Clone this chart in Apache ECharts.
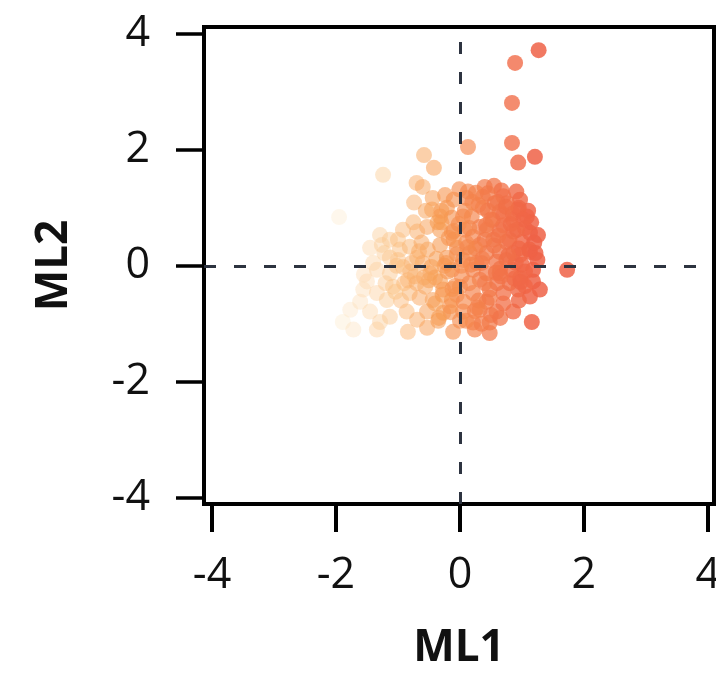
<!DOCTYPE html>
<html>
<head>
<meta charset="utf-8">
<script src="https://cdn.jsdelivr.net/npm/echarts@6/dist/echarts.min.js"></script>
<style>html,body{margin:0;padding:0;background:#fff;}#chart{width:716px;height:675px;}</style>
</head>
<body>
<div id="chart"></div>
<script>
// Scores on the two latent factors (ML1, ML2)
var ML1 = [1.27,0.89,0.84,0.84,0.94,1.21,1.73,1.16,0.13,-0.58,-0.42,-1.24,-0.70,-0.60,-1.95,
 -0.01,0.13,0.40,0.55,0.67,0.91,0.97,-0.44,-0.24,-0.10,-0.74,0.37,0.61,0.11,0.26,0.76,
 -0.45,-0.21,0.37,0.64,0.94,1.08,0.86,-0.13,-0.32,0.53,0.19,0.32,
 -0.53,-0.92,-0.69,-1.29,-1.13,-0.32,-0.13,0.08,0.21,0.43,0.64,0.86,1.13,1.26,1.00,0.75,0.54,0.32,
 -1.45,-1.26,-0.97,-0.81,-0.52,-0.32,-0.05,0.16,0.43,0.64,0.86,1.13,0.97,-1.13,-0.69,-0.21,0.59,0.27,
 -1.34,-1.13,-0.92,-0.73,-0.48,-0.13,0.03,0.21,0.43,0.64,0.83,0.97,1.18,1.18,0.32,-0.32,-1.50,
 -1.56,-1.34,-1.08,-0.81,-0.56,-0.27,0.00,0.21,0.48,0.70,0.94,1.29,1.13,-1.61,-1.18,-0.44,-0.13,0.43,
 -1.77,-1.45,-1.13,-0.86,-0.53,-0.27,0.05,0.32,0.59,0.86,-0.69,-1.29,-1.89,0.21,
 -1.72,-1.34,-0.84,-0.53,-0.11,0.24,0.48,0.48,
 0.30,0.45,0.70,0.80,1.05,1.20,0.95,0.75,0.55,0.40,0.25,0.10,0.05,0.35,0.65,0.90,1.05,1.25,0.80,0.60,
 0.40,0.15,0.30,0.70,0.95,1.05,0.50,0.35,0.65,0.10,-0.05,-0.20,-0.05,0.15,0.50,0.85,1.10,1.15,0.95,0.70,
 0.45,0.20,0.05,-0.10,-0.25,-0.40,-0.60,-0.80,-1.00,-0.90,-0.65,-0.35,-0.15,-0.95,-1.20,-1.40,-1.55,-1.00,-0.75,-0.55,-0.30,
 0.62,0.78,1.00,1.12,0.88,0.58,0.36,0.18,0.70,0.92,1.02,0.48,0.28,0.82,1.22,0.66,0.42,0.98,0.56,0.74,
 -0.38,-0.18,0.02,-0.46,-0.28,-0.08,0.12,-0.62,-0.36,-0.16,0.06,-0.50,-0.22,0.00,-0.40,-0.10,0.08,-0.66,-0.30,-0.02,
 -0.84,-1.02,-1.22,-0.58,-0.78,-1.04,-0.34,-0.70,-0.12,0.24];
var ML2 = [3.72,3.50,2.81,2.12,1.78,1.88,-0.07,-0.97,2.05,1.91,1.69,1.57,1.43,1.36,0.84,
 1.32,1.28,1.36,1.38,1.30,1.28,1.14,1.17,1.22,1.14,1.09,1.19,1.10,1.17,1.26,1.08,
 0.97,1.00,1.00,0.93,0.97,0.85,0.79,0.83,0.85,0.79,0.85,0.67,
 0.67,0.62,0.59,0.53,0.45,0.62,0.57,0.62,0.50,0.62,0.62,0.59,0.57,0.53,0.41,0.41,0.45,0.36,
 0.31,0.36,0.28,0.33,0.28,0.36,0.31,0.22,0.22,0.24,0.22,0.24,0.19,0.14,0.14,0.14,0.07,0.05,
 -0.07,-0.13,-0.02,-0.18,-0.13,-0.07,-0.18,-0.07,-0.13,-0.13,-0.07,-0.21,-0.07,-0.27,-0.24,-0.27,-0.27,
 -0.41,-0.47,-0.36,-0.47,-0.36,-0.41,-0.36,-0.47,-0.41,-0.47,-0.41,-0.41,-0.53,-0.62,-0.59,-0.59,-0.59,-0.62,
 -0.76,-0.79,-0.88,-0.79,-0.79,-0.81,-0.79,-0.76,-0.79,-0.79,-0.93,-0.97,-0.97,-0.98,
 -1.10,-1.10,-1.14,-1.07,-1.14,-1.10,-1.16,-0.98,
 1.05,0.95,0.70,0.45,0.65,0.40,0.30,0.10,0.35,0.45,0.30,0.40,0.10,0.05,-0.05,0.05,-0.10,0.10,-0.30,-0.30,
 -0.30,-0.30,-0.60,-0.65,-0.60,-0.35,-0.85,-1.00,-0.90,-0.95,-0.50,-0.10,0.20,0.65,0.80,0.90,0.95,0.75,1.00,1.20,
 1.25,1.10,0.85,0.45,0.00,-0.20,0.05,-0.10,0.10,-0.30,-0.55,-0.95,-0.80,-0.60,-0.30,0.05,-0.15,0.45,0.75,0.95,0.75,
 0.52,0.18,0.02,0.28,-0.22,-0.12,0.12,0.02,0.88,0.62,0.80,-0.55,-0.72,0.72,0.22,-0.18,0.70,-0.28,1.08,1.02,
 0.12,0.48,0.00,-0.02,-0.50,-0.35,0.32,0.40,0.75,-0.70,-0.62,-0.25,0.05,-0.95,-0.65,0.60,0.95,0.25,0.95,0.72,
 -0.25,0.00,0.22,-0.20,0.05,-0.45,-0.90,-0.30,-0.40,-0.78];
var TICKS = [-4, -2, 0, 2, 4];
var X_RANGE = [-4.13, 4.10];
var Y_RANGE = [-4.11, 4.12];

var points = ML1.map(function (v, i) { return [v, ML2[i]]; });

var FONT = '"Open Sans", sans-serif';
var chart = echarts.init(document.getElementById('chart'), null, {renderer: 'canvas'});
chart.setOption({
  animation: false,
  grid: {left: 204, top: 27, width: 510, height: 477, show: true, borderColor: '#000', borderWidth: 4,
         backgroundColor: 'transparent', outerBoundsMode: 'none', containLabel: false},
  xAxis: {
    type: 'value', min: X_RANGE[0], max: X_RANGE[1],
    name: 'ML1', nameLocation: 'middle', nameGap: 122,
    nameTextStyle: {fontFamily: FONT, fontWeight: 'bold', fontSize: 44, color: '#111'},
    splitLine: {show: false},
    axisLine: {show: false, onZero: false},
    axisTick: {show: true, customValues: TICKS, length: 28, inside: false, lineStyle: {color: '#000', width: 4}},
    axisLabel: {customValues: TICKS, margin: 50, fontFamily: FONT, fontSize: 43, color: '#111', hideOverlap: false}
  },
  yAxis: {
    type: 'value', min: Y_RANGE[0], max: Y_RANGE[1],
    name: 'ML2', nameLocation: 'middle', nameGap: 128, nameRotate: 90,
    nameTextStyle: {fontFamily: FONT, fontWeight: 'bold', fontSize: 44, color: '#111'},
    splitLine: {show: false},
    axisLine: {show: false, onZero: false},
    axisTick: {show: true, customValues: TICKS, length: 28, inside: false, lineStyle: {color: '#000', width: 3.5}},
    axisLabel: {customValues: TICKS, margin: 54, fontFamily: FONT, fontSize: 43, color: '#111'}
  },
  visualMap: {
    show: false, type: 'continuous', dimension: 0, seriesIndex: 1,
    min: -1.9, max: 1.2,
    inRange: {
      color: ['#fde3bf', '#fbc283', '#f79a50', '#f37a4a', '#ef6146'],
      opacity: [0.3, 0.85]
    }
  },
  series: [
    {
      type: 'line', data: [], z: 1, silent: true,
      markLine: {
        silent: true, symbol: 'none', label: {show: false},
        lineStyle: {color: '#2d3340', width: 3, type: [12, 18]},
        data: [{xAxis: 0}, {yAxis: 0}]
      }
    },
    {
      type: 'scatter', data: points, z: 3,
      symbol: 'circle', symbolSize: 16,
      itemStyle: {borderWidth: 0}
    }
  ]
});
</script>
</body>
</html>
